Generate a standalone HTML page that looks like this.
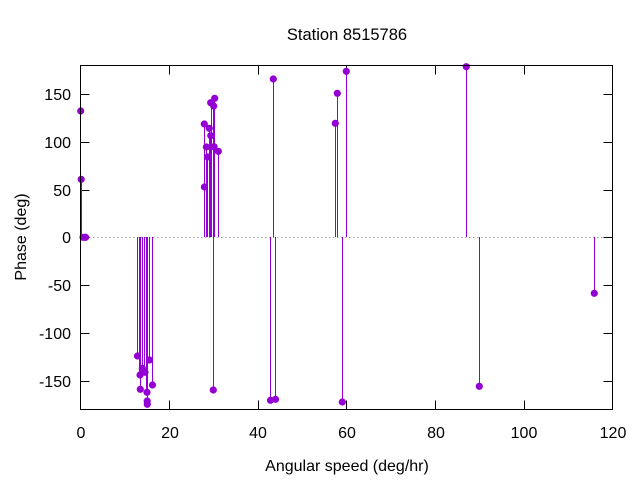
<!DOCTYPE html>
<html>
<head>
<meta charset="utf-8">
<style>
html,body{margin:0;padding:0;background:#fff;}
svg{display:block;}
text{font-family:"Liberation Sans",sans-serif;font-size:16px;fill:#000;}
</style>
</head>
<body>
<svg width="640" height="480" viewBox="0 0 640 480" xmlns="http://www.w3.org/2000/svg">
<rect x="0" y="0" width="640" height="480" fill="#fff"/>
<!-- zero line -->
<line x1="81" y1="237.5" x2="612" y2="237.5" stroke="#a0a0a0" stroke-width="1" stroke-dasharray="1.5,2.5"/>
<!-- ticks -->
<g stroke="#000" stroke-width="1">
<line x1="80.5" y1="94.5" x2="89.5" y2="94.5"/><line x1="612.5" y1="94.5" x2="603.5" y2="94.5"/>
<line x1="80.5" y1="142.5" x2="89.5" y2="142.5"/><line x1="612.5" y1="142.5" x2="603.5" y2="142.5"/>
<line x1="80.5" y1="190.5" x2="89.5" y2="190.5"/><line x1="612.5" y1="190.5" x2="603.5" y2="190.5"/>
<line x1="80.5" y1="237.5" x2="89.5" y2="237.5"/><line x1="612.5" y1="237.5" x2="603.5" y2="237.5"/>
<line x1="80.5" y1="285.5" x2="89.5" y2="285.5"/><line x1="612.5" y1="285.5" x2="603.5" y2="285.5"/>
<line x1="80.5" y1="333.5" x2="89.5" y2="333.5"/><line x1="612.5" y1="333.5" x2="603.5" y2="333.5"/>
<line x1="80.5" y1="381.5" x2="89.5" y2="381.5"/><line x1="612.5" y1="381.5" x2="603.5" y2="381.5"/>
<line x1="169.5" y1="409.5" x2="169.5" y2="400.5"/><line x1="169.5" y1="65.5" x2="169.5" y2="74.5"/>
<line x1="258.5" y1="409.5" x2="258.5" y2="400.5"/><line x1="258.5" y1="65.5" x2="258.5" y2="74.5"/>
<line x1="346.5" y1="409.5" x2="346.5" y2="400.5"/><line x1="346.5" y1="65.5" x2="346.5" y2="74.5"/>
<line x1="435.5" y1="409.5" x2="435.5" y2="400.5"/><line x1="435.5" y1="65.5" x2="435.5" y2="74.5"/>
<line x1="524.5" y1="409.5" x2="524.5" y2="400.5"/><line x1="524.5" y1="65.5" x2="524.5" y2="74.5"/>
</g>
<!-- stems -->
<g stroke="#9400d3" stroke-width="1">
<line x1="81.5" y1="237" x2="81.5" y2="179"/>
<line x1="137.5" y1="237" x2="137.5" y2="356"/>
<line x1="139.5" y1="237" x2="139.5" y2="375"/>
<line x1="140.5" y1="237" x2="140.5" y2="389"/>
<line x1="142.5" y1="237" x2="142.5" y2="368"/>
<line x1="144.5" y1="237" x2="144.5" y2="372"/>
<line x1="146.5" y1="237" x2="146.5" y2="392"/>
<line x1="147.5" y1="237" x2="147.5" y2="404"/>
<line x1="149.5" y1="237" x2="149.5" y2="360"/>
<line x1="152.5" y1="237" x2="152.5" y2="385"/>
<line x1="204.5" y1="237" x2="204.5" y2="124"/>
<line x1="206.5" y1="237" x2="206.5" y2="147"/>
<line x1="207.5" y1="237" x2="207.5" y2="157"/>
<line x1="209.5" y1="237" x2="209.5" y2="128"/>
<line x1="210.5" y1="237" x2="210.5" y2="136"/>
<line x1="211.5" y1="237" x2="211.5" y2="103"/>
<line x1="213.5" y1="237" x2="213.5" y2="390"/>
<line x1="213.5" y1="237" x2="213.5" y2="106"/>
<line x1="214.5" y1="237" x2="214.5" y2="98"/>
<line x1="218.5" y1="237" x2="218.5" y2="151"/>
<line x1="270.5" y1="237" x2="270.5" y2="400"/>
<line x1="273.5" y1="237" x2="273.5" y2="79"/>
<line x1="275.5" y1="237" x2="275.5" y2="399"/>
<line x1="335.5" y1="237" x2="335.5" y2="123"/>
<line x1="337.5" y1="237" x2="337.5" y2="93"/>
<line x1="342.5" y1="237" x2="342.5" y2="402"/>
<line x1="346.5" y1="237" x2="346.5" y2="71"/>
<line x1="466.5" y1="237" x2="466.5" y2="67"/>
<line x1="479.5" y1="237" x2="479.5" y2="386"/>
<line x1="594.5" y1="237" x2="594.5" y2="293"/>
</g>
<!-- points -->
<g fill="#9400d3">
<circle cx="80.7" cy="111" r="3.6"/>
<circle cx="81.2" cy="179.3" r="3.6"/>
<circle cx="83" cy="237.3" r="3.6"/>
<circle cx="85" cy="237.3" r="3.6"/>
<circle cx="85.6" cy="237.3" r="3.6"/>
<circle cx="137.5" cy="356" r="3.6"/>
<circle cx="140" cy="375" r="3.6"/>
<circle cx="140.3" cy="389.3" r="3.6"/>
<circle cx="142.3" cy="368.3" r="3.6"/>
<circle cx="145" cy="372.3" r="3.6"/>
<circle cx="147" cy="392.3" r="3.6"/>
<circle cx="147.2" cy="401" r="3.6"/>
<circle cx="147.3" cy="404.3" r="3.6"/>
<circle cx="149.5" cy="360" r="3.6"/>
<circle cx="152.5" cy="385" r="3.6"/>
<circle cx="204.3" cy="124" r="3.6"/>
<circle cx="204.4" cy="187" r="3.6"/>
<circle cx="206.4" cy="147" r="3.6"/>
<circle cx="207.5" cy="157" r="3.6"/>
<circle cx="209.3" cy="128.3" r="3.6"/>
<circle cx="210.7" cy="102.7" r="3.6"/>
<circle cx="210.8" cy="135.7" r="3.6"/>
<circle cx="213.3" cy="390" r="3.6"/>
<circle cx="213.7" cy="106" r="3.6"/>
<circle cx="214" cy="146.7" r="3.6"/>
<circle cx="214.7" cy="98.3" r="3.6"/>
<circle cx="218.3" cy="151.3" r="3.6"/>
<circle cx="270.5" cy="400.3" r="3.6"/>
<circle cx="273.3" cy="79" r="3.6"/>
<circle cx="275.5" cy="399.3" r="3.6"/>
<circle cx="335.3" cy="123.3" r="3.6"/>
<circle cx="337.3" cy="93.3" r="3.6"/>
<circle cx="342.3" cy="402" r="3.6"/>
<circle cx="346.3" cy="71.3" r="3.6"/>
<circle cx="466.3" cy="66.7" r="3.6"/>
<circle cx="479.3" cy="386.3" r="3.6"/>
<circle cx="594.3" cy="293.3" r="3.6"/>
</g>
<!-- border -->
<rect x="80.5" y="65.5" width="532" height="344" fill="none" stroke="#000" stroke-width="1"/>
<!-- y tick labels -->
<g text-anchor="end">
<text x="71" y="100">150</text>
<text x="71" y="148">100</text>
<text x="71" y="196">50</text>
<text x="71" y="243">0</text>
<text x="71" y="291">-50</text>
<text x="71" y="339">-100</text>
<text x="71" y="387">-150</text>
</g>
<!-- x tick labels -->
<g text-anchor="middle">
<text x="81" y="438">0</text>
<text x="170" y="438">20</text>
<text x="258" y="438">40</text>
<text x="347" y="438">60</text>
<text x="436" y="438">80</text>
<text x="524" y="438">100</text>
<text x="613" y="438">120</text>
</g>
<text x="347" y="471" text-anchor="middle">Angular speed (deg/hr)</text>
<text x="347" y="40" text-anchor="middle" style="font-size:16.5px">Station 8515786</text>
<text transform="translate(26,237) rotate(-90)" text-anchor="middle">Phase (deg)</text>
</svg>
</body>
</html>
